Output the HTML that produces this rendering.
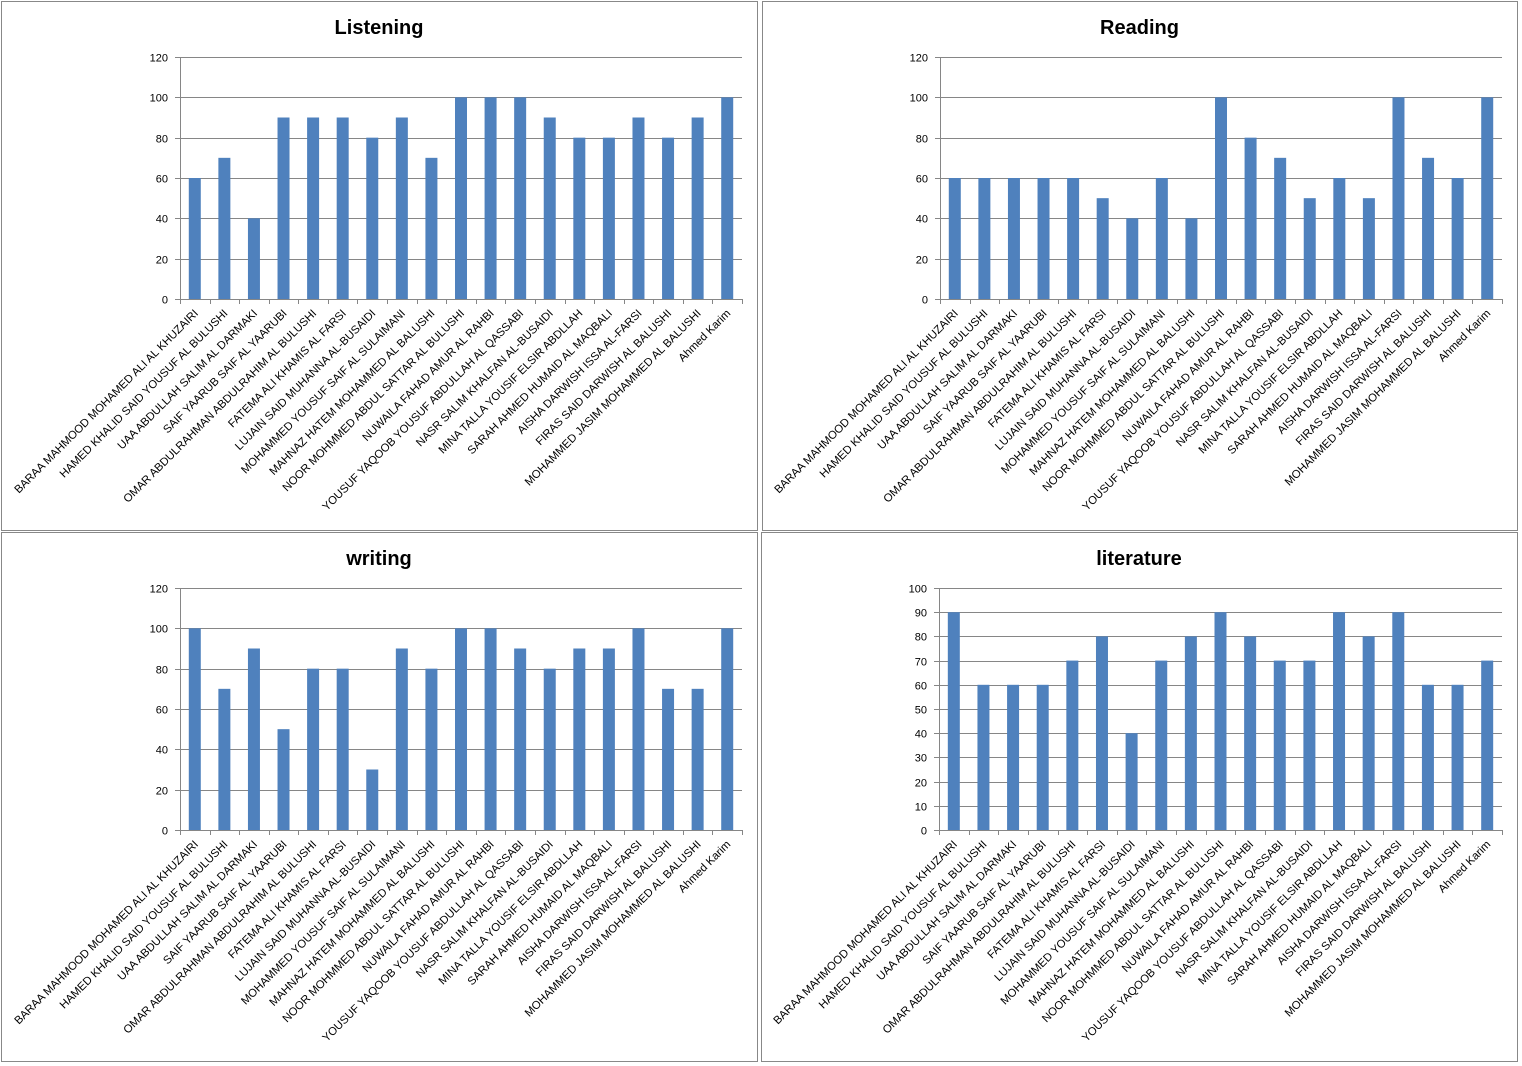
<!DOCTYPE html>
<html><head><meta charset="utf-8"><style>
html,body{margin:0;padding:0;background:#fff}
svg{display:block}
text{font-family:"Liberation Sans","DejaVu Sans",sans-serif}
</style></head><body>
<svg id="s" width="1522" height="1066" xmlns="http://www.w3.org/2000/svg"></svg>
<script>
const names=["BARAA MAHMOOD MOHAMED ALI AL KHUZAIRI","HAMED KHALID SAID YOUSUF AL BULUSHI","UAA ABDULLAH SALIM AL DARMAKI","SAIF YAARUB SAIF AL YAARUBI","OMAR ABDULRAHMAN ABDULRAHIM AL BULUSHI","FATEMA ALI KHAMIS AL FARSI","LUJAIN SAID MUHANNA AL-BUSAIDI","MOHAMMED YOUSUF SAIF AL SULAIMANI","MAHNAZ HATEM MOHAMMED AL BALUSHI","NOOR MOHMMED ABDUL SATTAR AL BULUSHI","NUWAILA FAHAD AMUR AL RAHBI","YOUSUF YAQOOB YOUSUF ABDULLAH AL QASSABI","NASR SALIM KHALFAN AL-BUSAIDI","MINA TALLA YOUSIF ELSIR ABDLLAH","SARAH AHMED HUMAID AL MAQBALI","AISHA DARWISH ISSA AL-FARSI","FIRAS SAID DARWISH AL BALUSHI","MOHAMMED JASIM MOHAMMED AL BALUSHI","Ahmed Karim"];
const panels=[
{t:"Listening",bx:1,by:1,bw:756,bh:529,ax:180,top:57,bot:299,right:742,max:120,step:20,d:[60,70,40,90,90,90,80,90,70,100,100,100,90,80,80,90,80,90,100]},
{t:"Reading",bx:762,by:1,bw:755,bh:529,ax:940,top:57,bot:299,right:1502,max:120,step:20,d:[60,60,60,60,60,50,40,60,40,100,80,70,50,60,50,100,70,60,100]},
{t:"writing",bx:1,by:532,bw:756,bh:529,ax:180,top:588,bot:830,right:742,max:120,step:20,d:[100,70,90,50,80,80,30,90,80,100,100,90,80,90,90,100,70,70,100]},
{t:"literature",bx:761,by:532,bw:756,bh:529,ax:939,top:588,bot:830,right:1502,max:100,step:10,d:[90,60,60,60,70,80,40,70,80,90,80,70,70,90,80,90,60,60,70]}];
let h='';
for(const p of panels){
 h+=`<rect x="${p.bx+.5}" y="${p.by+.5}" width="${p.bw}" height="${p.bh}" fill="#fff" stroke="#888"/>`;
 h+=`<text x="${p.bx+p.bw/2}" y="${p.by+33}" font-size="20" font-weight="bold" text-anchor="middle" fill="#000">${p.t}</text>`;
 const H=p.bot-p.top;
 for(let v=0;v<=p.max;v+=p.step){
  const y=Math.round(p.bot-v/p.max*H)+.5;
  h+=`<line x1="${p.ax-5}" x2="${p.right}" y1="${y}" y2="${y}" stroke="#868686"/>`;
  h+=`<text x="${p.ax-12}" y="${y+4}" font-size="11" text-anchor="end" fill="#000">${v}</text>`;
 }
 h+=`<line x1="${p.ax+.5}" x2="${p.ax+.5}" y1="${p.top}" y2="${p.bot+5}" stroke="#868686"/>`;
 const cw=(p.right-p.ax)/19;
 for(let i=0;i<19;i++){
  const x=Math.round(p.ax+cw*(i+1))+.5;
  h+=`<line x1="${x}" x2="${x}" y1="${p.bot}" y2="${p.bot+5}" stroke="#868686"/>`;
  const cx=p.ax+cw*(i+.5);
  const bh=p.d[i]/p.max*H;
  h+=`<rect x="${cx-6}" y="${p.bot-bh}" width="12" height="${bh}" fill="#4f81bd"/>`;
  const lx=cx+4,ly=p.bot+15;
  h+=`<text x="${lx}" y="${ly}" font-size="11.3" text-anchor="end" transform="rotate(-45 ${lx} ${ly})" fill="#000">${names[i]}</text>`;
 }
}
document.getElementById('s').innerHTML=h;
</script>
</body></html>
